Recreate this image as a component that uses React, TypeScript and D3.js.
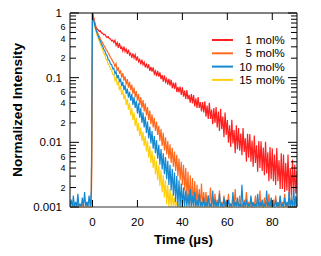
import * as d3 from 'd3';

// time grid of the decay traces (µs), one sample every 0.5 µs
const times = d3.range(-10, 91.25, 0.5);

const seriesNames = ['1', '5', '10', '15'];
const seriesColors = ['#ff1f1f', '#ff6a1f', '#1589d0', '#ffcf0f'];

// baseline before the excitation pulse (t = -10 .. -0.5)
const redPre = [
  0.0007, 0.0009, 0.0006, 0.001, 0.0007, 0.0008, 0.0006, 0.0009, 0.0007, 0.001,
  0.0006, 0.0009, 0.0007, 0.0008, 0.0006, 0.001, 0.0007, 0.0009, 0.0006, 0.0008,
];
const orangePre = [
  0.0007, 0.001, 0.0006, 0.0011, 0.0008, 0.0009, 0.0007, 0.0012, 0.0006, 0.001,
  0.0008, 0.0011, 0.0007, 0.0009, 0.0006, 0.0012, 0.0008, 0.001, 0.0007, 0.0011,
];
const bluePre = [
  0.0008, 0.0013, 0.0007, 0.0015, 0.0009, 0.0012, 0.0006, 0.0016, 0.0008, 0.0011,
  0.0007, 0.0014, 0.0009, 0.0017, 0.0008, 0.0012, 0.0007, 0.0015, 0.0009, 0.0018,
];
const yellowPre = [
  0.0006, 0.0009, 0.0007, 0.001, 0.0006, 0.0008, 0.0007, 0.0009, 0.0006, 0.001,
  0.0007, 0.0008, 0.0006, 0.0009, 0.0007, 0.001, 0.0006, 0.0008, 0.0007, 0.0009,
];

// decay after the pulse (t = 0 .. 91), one row per 5 µs
const redDecay = [
  1.0, 0.86, 0.72, 0.62, 0.57, 0.55, 0.52, 0.53, 0.49, 0.49,
  0.46, 0.47, 0.44, 0.42, 0.43, 0.4, 0.4, 0.37, 0.38, 0.35,
  0.378, 0.316, 0.347, 0.288, 0.342, 0.287, 0.3, 0.259, 0.302, 0.253,
  0.277, 0.234, 0.271, 0.225, 0.239, 0.203, 0.237, 0.201, 0.227, 0.184,
  0.213, 0.176, 0.191, 0.16, 0.19, 0.158, 0.173, 0.144, 0.166, 0.139,
  0.16, 0.127, 0.147, 0.124, 0.144, 0.114, 0.127, 0.106, 0.127, 0.104,
  0.121, 0.095, 0.11, 0.087, 0.109, 0.086, 0.096, 0.078, 0.096, 0.075,
  0.093, 0.069, 0.084, 0.067, 0.084, 0.06, 0.072, 0.059, 0.073, 0.054,
  0.071, 0.051, 0.063, 0.047, 0.064, 0.046, 0.054, 0.041, 0.056, 0.04,
  0.054, 0.036, 0.048, 0.034, 0.05, 0.034, 0.042, 0.03, 0.042, 0.029,
  0.043, 0.025, 0.037, 0.023, 0.041, 0.023, 0.032, 0.019, 0.034, 0.02,
  0.035, 0.017, 0.03, 0.015, 0.033, 0.016, 0.025, 0.012, 0.029, 0.013,
  0.0222, 0.0099, 0.0184, 0.0085, 0.0223, 0.0096, 0.0155, 0.0068, 0.0183, 0.0078,
  0.0166, 0.0074, 0.0137, 0.0063, 0.0166, 0.0071, 0.0116, 0.005, 0.0136, 0.0058,
  0.0134, 0.005, 0.0107, 0.0042, 0.0127, 0.0048, 0.009, 0.0035, 0.0105, 0.004,
  0.0104, 0.0036, 0.0083, 0.0031, 0.0102, 0.0033, 0.007, 0.0025, 0.0085, 0.0027,
  0.008, 0.0025, 0.0065, 0.0022, 0.0082, 0.0025, 0.0053, 0.0019, 0.0068, 0.0019,
  0.0065, 0.0017, 0.0048, 0.0018, 0.0065, 0.0015, 0.004, 0.0015, 0.0054, 0.0015,
  0.0045, 0.0016, 0.0036,
];
const orangeDecay = [
  1.0, 0.82, 0.68, 0.58, 0.52, 0.47, 0.44, 0.4, 0.37, 0.345,
  0.32, 0.3, 0.275, 0.26, 0.24, 0.225, 0.205, 0.195, 0.178, 0.17,
  0.15, 0.165, 0.128, 0.145, 0.115, 0.13, 0.1, 0.118, 0.09, 0.105,
  0.078, 0.095, 0.07, 0.086, 0.064, 0.078, 0.056, 0.07, 0.05, 0.062,
  0.044, 0.056, 0.038, 0.05, 0.034, 0.045, 0.03, 0.04, 0.026, 0.035,
  0.022, 0.031, 0.019, 0.027, 0.017, 0.024, 0.015, 0.021, 0.013, 0.018,
  0.0105, 0.016, 0.0088, 0.014, 0.0075, 0.012, 0.0065, 0.0105, 0.0056, 0.0093,
  0.0048, 0.0082, 0.0042, 0.0072, 0.0036, 0.0064, 0.003, 0.0056, 0.0026, 0.005,
  0.0022, 0.0045, 0.0018, 0.004, 0.0014, 0.0035, 0.0011, 0.0031, 0.0009, 0.0028,
  0.0008, 0.0025, 0.0007, 0.0022, 0.0008, 0.0019, 0.0006, 0.0023, 0.0009, 0.0017,
  0.0007, 0.0017, 0.0008, 0.0015, 0.0006, 0.002, 0.0009, 0.0014, 0.0007, 0.0016,
  0.0008, 0.0013, 0.0006, 0.0018, 0.0009, 0.0012, 0.0007, 0.0015, 0.0008, 0.0013,
  0.0006, 0.0016, 0.0009, 0.0011, 0.0007, 0.0014, 0.0008, 0.0019, 0.0006, 0.0012,
  0.0009, 0.0015, 0.0007, 0.0011, 0.0008, 0.0013, 0.0006, 0.0017, 0.0009, 0.0012,
  0.0007, 0.0014, 0.0008, 0.0011, 0.0006, 0.0015, 0.0009, 0.0012, 0.0007, 0.0018,
  0.0008, 0.0011, 0.0006, 0.0014, 0.0009, 0.0012, 0.0007, 0.0016, 0.0008, 0.0011,
  0.0006, 0.0013, 0.0009, 0.0015, 0.0007, 0.0011, 0.0008, 0.0014, 0.0006, 0.0012,
  0.0009, 0.0016, 0.0007, 0.0011, 0.0008, 0.0013, 0.0006, 0.0015, 0.0009, 0.0012,
  0.0007, 0.0014, 0.0008,
];
const blueDecay = [
  1.0, 0.8, 0.65, 0.56, 0.5, 0.45, 0.4, 0.37, 0.33, 0.31,
  0.275, 0.26, 0.23, 0.22, 0.19, 0.185, 0.162, 0.16, 0.138, 0.14,
  0.115, 0.125, 0.098, 0.11, 0.085, 0.097, 0.074, 0.086, 0.064, 0.077,
  0.056, 0.068, 0.049, 0.061, 0.044, 0.056, 0.038, 0.05, 0.034, 0.044,
  0.028, 0.04, 0.024, 0.034, 0.02, 0.029, 0.017, 0.025, 0.014, 0.021,
  0.0115, 0.0175, 0.0096, 0.015, 0.008, 0.0125, 0.0068, 0.0108, 0.0056, 0.0092,
  0.0045, 0.0079, 0.0038, 0.0068, 0.0032, 0.0059, 0.0027, 0.0052, 0.0022, 0.0045,
  0.0018, 0.0039, 0.0015, 0.0034, 0.0012, 0.003, 0.001, 0.0026, 0.0008, 0.0023,
  0.0009, 0.002, 0.0007, 0.0018, 0.0008, 0.0016, 0.0006, 0.0019, 0.0009, 0.0015,
  0.0007, 0.0017, 0.0008, 0.0013, 0.0006, 0.0016, 0.0009, 0.0012, 0.0007, 0.0014,
  0.0008, 0.0012, 0.0006, 0.0015, 0.0009, 0.0011, 0.0007, 0.0018, 0.0008, 0.0013,
  0.0006, 0.0012, 0.0009, 0.0016, 0.0007, 0.0011, 0.0008, 0.0014, 0.0006, 0.0012,
  0.0009, 0.0013, 0.0007, 0.0011, 0.0008, 0.0017, 0.0006, 0.0012, 0.0009, 0.0014,
  0.0007, 0.0011, 0.0008, 0.0022, 0.0006, 0.0012, 0.0009, 0.0013, 0.0007, 0.0011,
  0.0008, 0.0015, 0.0006, 0.0012, 0.0009, 0.0011, 0.0007, 0.0016, 0.0008, 0.0012,
  0.0006, 0.0013, 0.0009, 0.0011, 0.0007, 0.0018, 0.0008, 0.0012, 0.0006, 0.0014,
  0.0009, 0.0011, 0.0007, 0.0013, 0.0008, 0.0012, 0.0006, 0.0015, 0.0009, 0.0011,
  0.0007, 0.0014, 0.0008, 0.0012, 0.0006, 0.0017, 0.0009, 0.0013, 0.0007, 0.0019,
  0.0008, 0.0015, 0.0009,
];
const yellowDecay = [
  1.0, 0.78, 0.62, 0.53, 0.46, 0.41, 0.37, 0.33, 0.3, 0.27,
  0.24, 0.225, 0.195, 0.185, 0.16, 0.155, 0.135, 0.132, 0.112, 0.112,
  0.09, 0.1, 0.077, 0.087, 0.064, 0.075, 0.054, 0.064, 0.046, 0.055,
  0.038, 0.047, 0.032, 0.04, 0.026, 0.034, 0.022, 0.029, 0.018, 0.024,
  0.015, 0.02, 0.0125, 0.017, 0.0105, 0.0145, 0.0088, 0.0125, 0.0072, 0.0105,
  0.0058, 0.0088, 0.0048, 0.0074, 0.004, 0.0062, 0.0032, 0.0052, 0.0026, 0.0044,
  0.0021, 0.0037, 0.0017, 0.0031, 0.0014, 0.0026, 0.0011, 0.0022, 0.0009, 0.0019,
  0.0008, 0.0016, 0.0007, 0.0014, 0.0008, 0.0012, 0.0006, 0.0011, 0.0007, 0.001,
  0.0006, 0.0009, 0.0007, 0.001, 0.0006, 0.0008, 0.0007, 0.0009, 0.0006, 0.001,
  0.0007, 0.0008, 0.0006, 0.0009, 0.0007, 0.001, 0.0006, 0.0008, 0.0007, 0.0009,
  0.0006, 0.001, 0.0007, 0.0008, 0.0006, 0.0009, 0.0007, 0.001, 0.0006, 0.0008,
  0.0007, 0.0009, 0.0006, 0.001, 0.0007, 0.0008, 0.0006, 0.0009, 0.0007, 0.001,
  0.0006, 0.0008, 0.0007, 0.0009, 0.0006, 0.0008, 0.0007, 0.0008, 0.0006, 0.0009,
  0.0007, 0.001, 0.0006, 0.0008, 0.0007, 0.0009, 0.0006, 0.0016, 0.0007, 0.0008,
  0.0006, 0.0009, 0.0007, 0.001, 0.0006, 0.0008, 0.0007, 0.0009, 0.0006, 0.001,
  0.0007, 0.0008, 0.0006, 0.0009, 0.0007, 0.001, 0.0006, 0.0008, 0.0007, 0.0009,
  0.0006, 0.001, 0.0007, 0.0008, 0.0006, 0.0009, 0.0007, 0.001, 0.0006, 0.0008,
  0.0007, 0.0009, 0.0006, 0.001, 0.0007, 0.0008, 0.0006, 0.0009, 0.0007, 0.001,
  0.0006, 0.0008, 0.0007,
];

const seriesValues = [
  [...redPre, ...redDecay],
  [...orangePre, ...orangeDecay],
  [...bluePre, ...blueDecay],
  [...yellowPre, ...yellowDecay],
];
// stacking: red at the bottom, then yellow, orange, blue on top
const drawOrder = [0, 3, 1, 2];

const xTicks = [0, 20, 40, 60, 80];
const yMajor = [1, 0.1, 0.01, 0.001];
const minorLabels = [2, 4, 6];

const W = 321;
const H = 256;
const left = 70;
const right = 297;
const top = 13;
const bottom = 207;
const font = '"Liberation Sans", Arial, sans-serif';

export default function App() {
  const x = d3.scaleLinear().domain([-10, 91]).range([left, right]);
  const y = d3.scaleLog().domain([0.001, 1]).range([bottom, top]).clamp(true);

  const line = d3
    .line<number>()
    .x((_, i) => x(times[i]))
    .y((d) => y(d));

  const minorTicks: number[] = [];
  yMajor.slice(1).forEach((m) => {
    for (let k = 2; k <= 9; k++) minorTicks.push(m * k);
  });

  return (
    <svg
      width={W}
      height={H}
      style={{ position: 'absolute', left: 0, top: 0, background: '#fff' }}
      fontFamily={font}
    >
      <defs>
        <clipPath id="plot">
          <rect x={left} y={top} width={right - left} height={bottom - top + 1} />
        </clipPath>
      </defs>

      <g clipPath="url(#plot)">
        {drawOrder.map((s) => (
          <path
            key={s}
            d={line(seriesValues[s].slice(0, times.length)) ?? ''}
            fill="none"
            stroke={seriesColors[s]}
            strokeWidth={1.2}
          />
        ))}
      </g>

      {/* frame */}
      <line x1={left} x2={right} y1={top} y2={top} stroke="#000" />
      <line x1={right} x2={right} y1={top} y2={bottom} stroke="#000" />
      <line x1={left} x2={left} y1={top} y2={bottom} stroke="#000" />
      <line x1={left} x2={right} y1={bottom} y2={bottom} stroke="#777" strokeWidth={1.5} />

      {/* x ticks */}
      {xTicks.map((t) => (
        <g key={t}>
          <line x1={x(t)} x2={x(t)} y1={top} y2={top + 7} stroke="#000" />
          <line x1={x(t)} x2={x(t)} y1={bottom} y2={bottom - 7} stroke="#000" />
          <text x={x(t)} y={226} textAnchor="middle" fontSize={11.5}>
            {t}
          </text>
        </g>
      ))}

      {/* y ticks */}
      {yMajor.map((v) => (
        <g key={v}>
          <line x1={left} x2={left + 9} y1={y(v)} y2={y(v)} stroke="#000" />
          <line x1={right} x2={right - 9} y1={y(v)} y2={y(v)} stroke="#000" />
          <text x={62} y={y(v) + 4} textAnchor="end" fontSize={11.5}>
            {String(v)}
          </text>
        </g>
      ))}
      {minorTicks.map((v, i) => {
        const digit = Math.round(v / Math.pow(10, Math.floor(Math.log10(v) + 1e-9)));
        return (
          <g key={i}>
            <line x1={left} x2={left + 6} y1={y(v)} y2={y(v)} stroke="#000" />
            <line x1={right} x2={right - 6} y1={y(v)} y2={y(v)} stroke="#000" />
            {minorLabels.includes(digit) && (
              <text x={65.5} y={y(v) + 3} textAnchor="end" fontSize={9}>
                {digit}
              </text>
            )}
          </g>
        );
      })}

      {/* axis titles */}
      <text
        transform={`translate(22, ${(top + bottom) / 2}) rotate(-90)`}
        textAnchor="middle"
        fontSize={12}
        fontWeight="bold"
        textLength={134}
        lengthAdjust="spacingAndGlyphs"
      >
        Normalized Intensity
      </text>
      <text
        x={(left + right) / 2}
        y={244}
        textAnchor="middle"
        fontSize={12}
        fontWeight="bold"
        textLength={59}
        lengthAdjust="spacingAndGlyphs"
      >
        Time (µs)
      </text>

      {/* legend */}
      {seriesNames.map((name, i) => {
        const ly = 40 + i * 13.3;
        return (
          <g key={name}>
            <line x1={212} x2={233} y1={ly} y2={ly} stroke={seriesColors[i]} strokeWidth={2} />
            <text x={252} y={ly + 4} textAnchor="end" fontSize={11.5}>
              {name}
            </text>
            <text x={256} y={ly + 4} fontSize={11.5}>
              mol%
            </text>
          </g>
        );
      })}
    </svg>
  );
}
